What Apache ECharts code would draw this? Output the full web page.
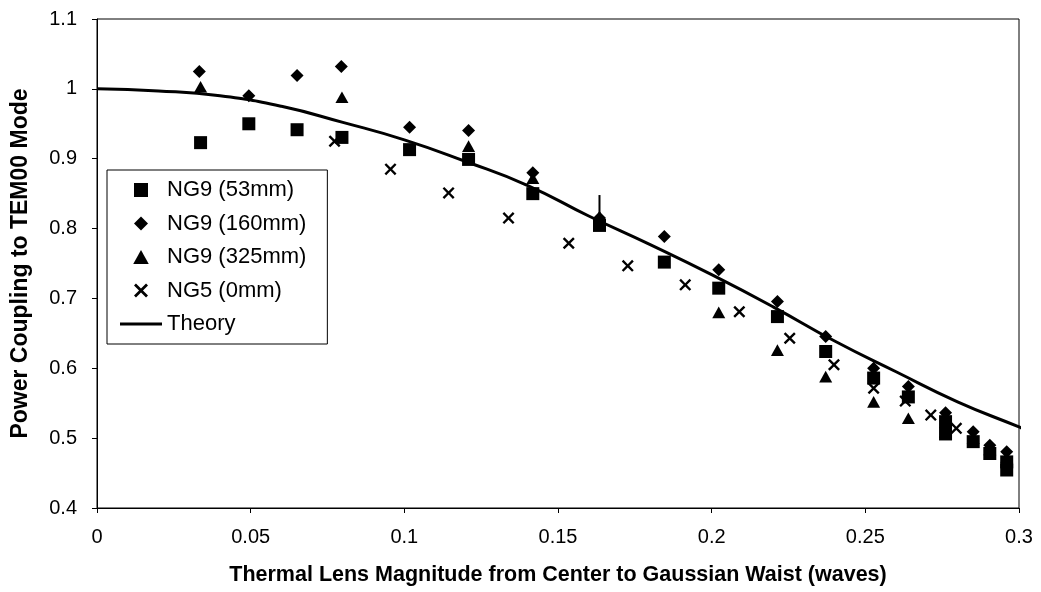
<!DOCTYPE html>
<html>
<head>
<meta charset="utf-8">
<script src="https://cdn.jsdelivr.net/npm/echarts@6/dist/echarts.min.js"></script>
<style>
html,body{margin:0;padding:0;background:#fff;}
#chart{width:1041px;height:592px;}
</style>
</head>
<body>
<div id="chart"></div>
<script>
var xTicks = [0, 0.05, 0.1, 0.15, 0.2, 0.25, 0.3];
var yTicks = [0.4, 0.5, 0.6, 0.7, 0.8, 0.9, 1, 1.1];

var ng9_53 = [
  [0.0337, 0.923], [0.0494, 0.950], [0.0651, 0.9415], [0.0797, 0.9305], [0.1017, 0.913],
  [0.1209, 0.899], [0.1418, 0.850], [0.1635, 0.8045], [0.1846, 0.752], [0.2023, 0.7147],
  [0.2214, 0.674], [0.2371, 0.624], [0.2527, 0.586], [0.264, 0.559], [0.2761, 0.5236],
  [0.2761, 0.506], [0.2851, 0.495], [0.2905, 0.478], [0.296, 0.466], [0.296, 0.4544]
];
var ng9_160 = [
  [0.0333, 1.025], [0.0494, 0.990], [0.0651, 1.019], [0.0795, 1.032], [0.1017, 0.945],
  [0.1209, 0.9405], [0.1418, 0.880], [0.1635, 0.815], [0.1846, 0.7887], [0.2023, 0.741],
  [0.2214, 0.6956], [0.2371, 0.6454], [0.2527, 0.600], [0.264, 0.574], [0.2761, 0.5365],
  [0.2851, 0.509], [0.2905, 0.490], [0.296, 0.4807]
];
var ng9_325 = [
  [0.0337, 1.003], [0.0797, 0.988], [0.1209, 0.918], [0.1418, 0.872], [0.1635, 0.817],
  [0.2023, 0.680], [0.2214, 0.626], [0.2371, 0.588], [0.2527, 0.552], [0.264, 0.5285],
  [0.2761, 0.509], [0.2851, 0.500], [0.2905, 0.484], [0.296, 0.473]
];
var ng5_0 = [
  [0.0773, 0.925], [0.0955, 0.885], [0.1144, 0.851], [0.1339, 0.815], [0.1535, 0.779],
  [0.1727, 0.7467], [0.1914, 0.7195], [0.209, 0.681], [0.2254, 0.643], [0.2398, 0.605],
  [0.2527, 0.5715], [0.263, 0.553], [0.2713, 0.533], [0.2796, 0.514]
];
var theory = [
  [0, 1.000], [0.02, 0.997], [0.04, 0.990], [0.06, 0.975], [0.08, 0.952], [0.10, 0.927],
  [0.12, 0.896], [0.14, 0.862], [0.16, 0.818], [0.18, 0.777], [0.20, 0.734], [0.22, 0.688],
  [0.24, 0.639], [0.26, 0.595], [0.28, 0.552], [0.30, 0.516], [0.302, 0.512]
];
var errorBar = [[0.1635, 0.812], [0.1635, 0.848]];

var seriesNames = ['NG9 (53mm)', 'NG9 (160mm)', 'NG9 (325mm)', 'NG5 (0mm)', 'Theory'];
var xAxisTitle = 'Thermal Lens Magnitude from Center to Gaussian Waist (waves)';
var yAxisTitle = 'Power Coupling to TEM00 Mode';

var squarePath = 'path://M0,0 L10,0 L10,10 L0,10 Z';
var diamondPath = 'path://M5,0 L10,5 L5,10 L0,5 Z';
var trianglePath = 'path://M5,0 L10,9 L0,9 Z';
var crossPath = 'path://M0,1.4 L1.4,0 L5,3.6 L8.6,0 L10,1.4 L6.4,5 L10,8.6 L8.6,10 L5,6.4 L1.4,10 L0,8.6 L3.6,5 Z';
var linePath = 'path://M0,0 L42,0 L42,3 L0,3 Z';
var FONT = 'Liberation Sans, Arial, sans-serif';

var markStyle = {color: '#000', opacity: 1};

var chart = echarts.init(document.getElementById('chart'), null, {renderer: 'canvas'});
chart.setOption({
  backgroundColor: '#ffffff',
  animation: false,
  grid: {left: 97, right: 22, top: 19, bottom: 84, show: true, borderColor: '#000', borderWidth: 1},
  xAxis: {
    type: 'value', min: xTicks[0], max: xTicks[xTicks.length - 1], interval: 0.05,
    name: xAxisTitle, nameLocation: 'middle', nameGap: 56,
    nameTextStyle: {fontFamily: FONT, fontWeight: 'bold', fontSize: 21.5, color: '#000'},
    axisLine: {lineStyle: {color: '#000', width: 1}},
    axisTick: {show: true, inside: false, length: 5, lineStyle: {color: '#000'}},
    axisLabel: {fontFamily: FONT, fontSize: 20, color: '#000', margin: 19,
      formatter: function (v) { return String(Math.round(v * 100) / 100); }},
    splitLine: {show: false}
  },
  yAxis: {
    type: 'value', min: yTicks[0], max: yTicks[yTicks.length - 1], interval: 0.1,
    name: yAxisTitle, nameLocation: 'middle', nameGap: 65, nameRotate: 90,
    nameTextStyle: {fontFamily: FONT, fontWeight: 'bold', fontSize: 23, color: '#000'},
    axisLine: {show: true, lineStyle: {color: '#000', width: 1}},
    axisTick: {show: true, inside: false, length: 5, lineStyle: {color: '#000'}},
    axisLabel: {fontFamily: FONT, fontSize: 20, color: '#000', margin: 20,
      formatter: function (v) { return String(Math.round(v * 10) / 10); }},
    splitLine: {show: false}
  },
  legend: {
    orient: 'vertical', left: 107, top: 170,
    padding: [8, 21, 8, 13],
    itemWidth: 42, itemHeight: 14, itemGap: 9.5,
    symbolKeepAspect: true,
    borderColor: '#000', borderWidth: 1, backgroundColor: '#fff',
    textStyle: {fontFamily: FONT, fontSize: 22, color: '#000', lineHeight: 24},
    data: [
      {name: seriesNames[0]}, {name: seriesNames[1]}, {name: seriesNames[2]}, {name: seriesNames[3]},
      {name: seriesNames[4], icon: linePath}
    ]
  },
  series: [
    {name: seriesNames[4], type: 'line', data: theory, symbol: 'none', smooth: true, clip: false,
     lineStyle: {color: '#000', width: 3}, itemStyle: markStyle, z: 1},
    {name: 'err', type: 'line', data: errorBar, symbol: 'none', lineStyle: {color: '#000', width: 2}, z: 2},
    {name: seriesNames[0], type: 'scatter', data: ng9_53, symbol: squarePath, symbolSize: 13, symbolKeepAspect: true, itemStyle: markStyle, z: 3},
    {name: seriesNames[1], type: 'scatter', data: ng9_160, symbol: diamondPath, symbolSize: 13, symbolKeepAspect: true, itemStyle: markStyle, z: 3},
    {name: seriesNames[2], type: 'scatter', data: ng9_325, symbol: trianglePath, symbolSize: 13, symbolKeepAspect: true, itemStyle: markStyle, z: 3},
    {name: seriesNames[3], type: 'scatter', data: ng5_0, symbol: crossPath, symbolSize: 12, symbolKeepAspect: true, itemStyle: markStyle, z: 3}
  ]
});
</script>
</body>
</html>
